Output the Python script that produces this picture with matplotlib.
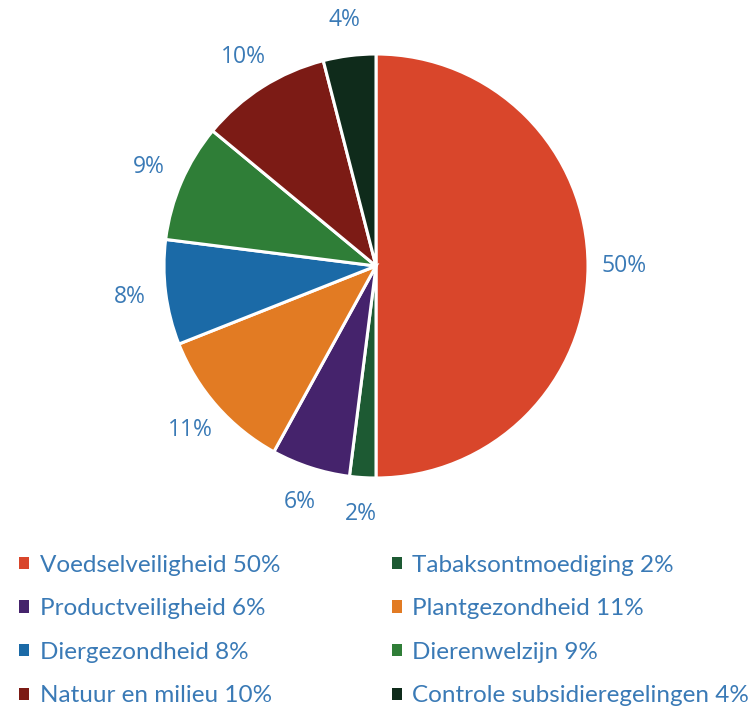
import matplotlib.pyplot as plt
from matplotlib.patches import Patch

# slices, clockwise from 12 o'clock
labels = ['Voedselveiligheid', 'Tabaksontmoediging', 'Productveiligheid', 'Plantgezondheid',
          'Diergezondheid', 'Dierenwelzijn', 'Natuur en milieu', 'Controle subsidieregelingen']
shares = [50, 2, 6, 11, 8, 9, 10, 4]
colors = ['#d9462b', '#1d5a33', '#45236c', '#e27b23', '#1b6aa7', '#2f7e37', '#7c1b15', '#0f2b1b']
txt_color = '#3a7ab6'

fig = plt.figure(figsize=(7.53, 7.15), dpi=100)
W, H = 753, 715
cx, cy, r = 376, 266, 212
ax = fig.add_axes([(cx - r) / W, (H - cy - r) / H, 2 * r / W, 2 * r / H])

wedges, texts = ax.pie(shares, colors=colors, startangle=90, counterclock=False,
                       labels=['%d%%' % s for s in shares], labeldistance=1.17,
                       wedgeprops=dict(edgecolor='white', linewidth=2.2),
                       textprops=dict(color=txt_color, fontsize=16.5, family='Open Sans'))
for t in texts:
    t.set_horizontalalignment('center')
ax.set_xlim(-1, 1)
ax.set_ylim(-1, 1)
ax.set_aspect('equal')
ax.axis('off')

# legend: two columns, row-wise order as in the picture
order = [0, 2, 4, 6, 1, 3, 5, 7]
handles = [Patch(facecolor=colors[i], label='%s %d%%' % (labels[i], shares[i])) for i in order]
fig.legend(handles=handles, ncol=2, loc='upper left', bbox_to_anchor=(-0.004, 0.255),
           frameon=False, labelcolor=txt_color,
           handlelength=0.4, handleheight=0.4, handletextpad=0.45,
           columnspacing=4.6, labelspacing=0.93, prop=dict(family='Lato', size=17.5))

fig.savefig('out.png', dpi=100)
